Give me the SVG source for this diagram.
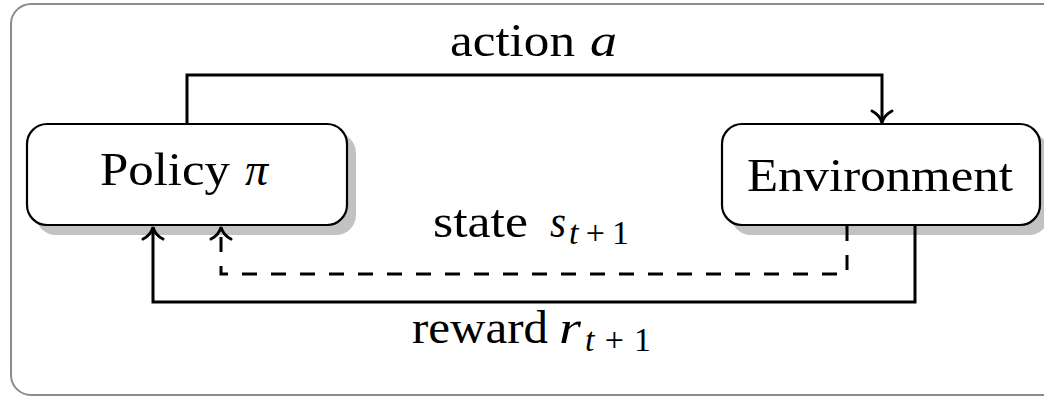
<svg xmlns="http://www.w3.org/2000/svg" width="1044" height="397" viewBox="0 0 1044 397">
<style>
.frame{fill:#fff;stroke:#8c8c8c;stroke-width:2}
.shadow{fill:#c2c2c2;stroke:none}
.box{fill:#fff;stroke:#000;stroke-width:2.2}
.t{font-family:"Liberation Serif","Times New Roman",serif;font-size:46px;fill:#000}
.it{font-style:italic}
.sub{font-size:34px}
.conn{fill:none;stroke:#000;stroke-width:3}
.dash{stroke-dasharray:15 14}
</style>
<defs>
<marker id="to" markerUnits="userSpaceOnUse" viewBox="-14 -14 18 28" refX="0" refY="0" markerWidth="18" markerHeight="28" orient="auto" overflow="visible">
<path d="M-11,-10 C-8,-4 -3,-1 1,0 C-3,1 -8,4 -11,10" fill="none" stroke="#000" stroke-width="3" stroke-linecap="round"/>
</marker>
</defs>
<rect class="frame" x="11" y="4" width="1070" height="391" rx="20"/>
<g id="policy">
<rect class="shadow" x="36" y="133" width="320" height="102" rx="20"/>
<rect class="box" x="27" y="124" width="320" height="101" rx="20"/>
<text class="t" x="100" y="185" textLength="130" lengthAdjust="spacingAndGlyphs">Policy</text>
<text class="t it" x="245" y="185">π</text>
</g>
<g id="environment">
<rect class="shadow" x="731" y="133" width="318" height="102" rx="20"/>
<rect class="box" x="722" y="124" width="318" height="101" rx="20"/>
<text class="t" x="747" y="191" textLength="266" lengthAdjust="spacingAndGlyphs">Environment</text>
</g>
<g id="connectors">
<path class="conn" d="M187,124 V75 H882 V122" marker-end="url(#to)"/>
<path class="conn dash" d="M847,226 V274 H221 V228" marker-end="url(#to)"/>
<path class="conn" d="M915,226 V302 H153 V228" marker-end="url(#to)"/>
</g>
<g id="labels">
<text class="t" x="450" y="56" textLength="125" lengthAdjust="spacingAndGlyphs">action</text>
<text class="t it" x="590" y="56" textLength="27" lengthAdjust="spacingAndGlyphs">a</text>
<text class="t" x="433" y="237" textLength="95" lengthAdjust="spacingAndGlyphs">state</text>
<text class="t it" x="550" y="237" textLength="16" lengthAdjust="spacingAndGlyphs">s</text>
<text class="t sub" x="569" y="244" textLength="60" lengthAdjust="spacing"><tspan class="it">t</tspan>+1</text>
<text class="t" x="412" y="343" textLength="136" lengthAdjust="spacingAndGlyphs">reward</text>
<text class="t it" x="559" y="343" textLength="22" lengthAdjust="spacingAndGlyphs">r</text>
<text class="t sub" x="585" y="351" textLength="66" lengthAdjust="spacing"><tspan class="it">t</tspan>+1</text>
</g>
</svg>
